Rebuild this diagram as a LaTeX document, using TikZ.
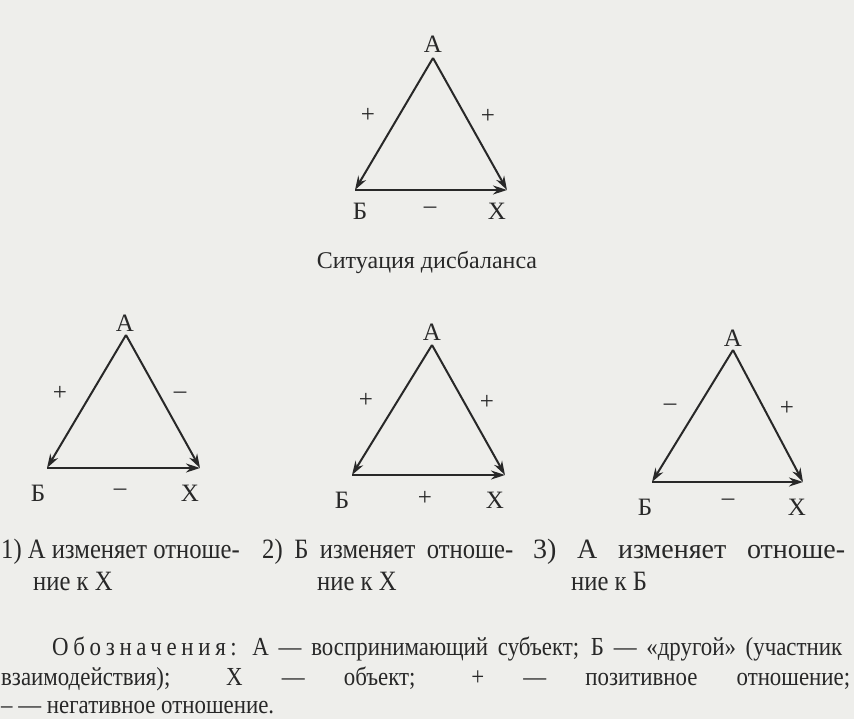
\documentclass[tikz,border=0pt]{standalone}
\usepackage{fontspec}
\setmainfont{Liberation Serif}
\newfontfamily\capfont[FakeStretch=0.88]{Liberation Serif}
\newfontfamily\capwide[FakeStretch=1.0]{Liberation Serif}
\newfontfamily\legfont[FakeStretch=0.88]{Liberation Serif}
\usetikzlibrary{arrows.meta}
\definecolor{ink}{RGB}{40,40,40}
\definecolor{paper}{RGB}{238,238,235}

\begin{document}
\begin{tikzpicture}[x=1pt, y=-1pt,
    vertex/.style={inner sep=0pt, text=ink, font=\fontsize{25}{28}\selectfont},
    sign/.style={inner sep=0pt, text=ink, font=\fontsize{25}{28}\selectfont},
    rel/.style={-{Stealth[length=14pt, width=9pt]}, line width=2pt, draw=ink},
    title/.style={inner sep=0pt, text=ink, font=\fontsize{24}{28}\selectfont},
    caption/.style={inner sep=0pt, anchor=base west, text=ink, font=\capfont\fontsize{28}{30}\selectfont},
    legend/.style={inner sep=0pt, anchor=base west, text=ink, font=\legfont\fontsize{26}{30}\selectfont},
]
\useasboundingbox (0,0) rectangle (854,719);
\fill[paper] (0,0) rectangle (854,719);
\clip (0,0) rectangle (854,719);

% Situation of imbalance
\coordinate (a0) at (433,58);
\coordinate (b0) at (355,190);
\coordinate (x0) at (507,190);
\draw[rel] (a0) -- (b0);
\draw[rel] (a0) -- (x0);
\draw[rel] (b0) -- (x0);
\node[vertex] (la0) at (433,44) {А};
\node[vertex] (lb0) at (360,211) {Б};
\node[vertex] (lx0) at (497,211) {Х};
\node[sign] (ab0) at (368,115) {+};
\node[sign] (ax0) at (488,116) {+};
\node[sign] (bx0) at (430,210) {–};
\node[title] (sit) at (427,263) {Ситуация дисбаланса};

% 1) A changes
\coordinate (a1) at (126,335);
\coordinate (b1) at (47,468);
\coordinate (x1) at (200,468);
\draw[rel] (a1) -- (b1);
\draw[rel] (a1) -- (x1);
\draw[rel] (b1) -- (x1);
\node[vertex] (la1) at (125,323) {А};
\node[vertex] (lb1) at (38,493) {Б};
\node[vertex] (lx1) at (190,493) {Х};
\node[sign] (ab1) at (60,393) {+};
\node[sign] (ax1) at (180,395) {–};
\node[sign] (bx1) at (120,492) {–};

% 2) B changes
\coordinate (a2) at (432,345);
\coordinate (b2) at (352,475);
\coordinate (x2) at (505,475);
\draw[rel] (a2) -- (b2);
\draw[rel] (a2) -- (x2);
\draw[rel] (b2) -- (x2);
\node[vertex] (la2) at (432,332) {А};
\node[vertex] (lb2) at (342,500) {Б};
\node[vertex] (lx2) at (495,500) {Х};
\node[sign] (ab2) at (366,400) {+};
\node[sign] (ax2) at (487,402) {+};
\node[sign] (bx2) at (425,498) {+};

% 3) A changes towards B
\coordinate (a3) at (733,350);
\coordinate (b3) at (652,482);
\coordinate (x3) at (803,482);
\draw[rel] (a3) -- (b3);
\draw[rel] (a3) -- (x3);
\draw[rel] (b3) -- (x3);
\node[vertex] (la3) at (733,338) {А};
\node[vertex] (lb3) at (645,507) {Б};
\node[vertex] (lx3) at (797,507) {Х};
\node[sign] (ab3) at (670,407) {–};
\node[sign] (ax3) at (787,408) {+};
\node[sign] (bx3) at (728,502) {–};

% Captions
\node[caption] (c1a) at (1,558) {1) А изменяет отноше-};
\node[caption] (c1b) at (33,590) {ние к Х};
\node[caption] (c2a) at (262,558) {\makebox[251pt][s]{2) Б изменяет отноше-}};
\node[caption] (c2b) at (317,590) {ние к Х};
\node[caption, font=\capwide\fontsize{28}{30}\selectfont] (c3a) at (533,558) {\makebox[312pt][s]{3) А изменяет отноше-}};
\node[caption] (c3b) at (571,590) {ние к Б};

% Legend
\node[legend] (leg1) at (52,655) {\makebox[790pt][s]{{\addfontfeature{LetterSpace=18}Обозначения:} А — воспринимающий субъект; Б — «другой» (участник}};
\node[legend] (leg2) at (1,685) {\makebox[849pt][s]{взаимодействия); Х — объект; + — позитивное отношение;}};
\node[legend] (leg3) at (1,713) {– — негативное отношение.};

\end{tikzpicture}
\end{document}
